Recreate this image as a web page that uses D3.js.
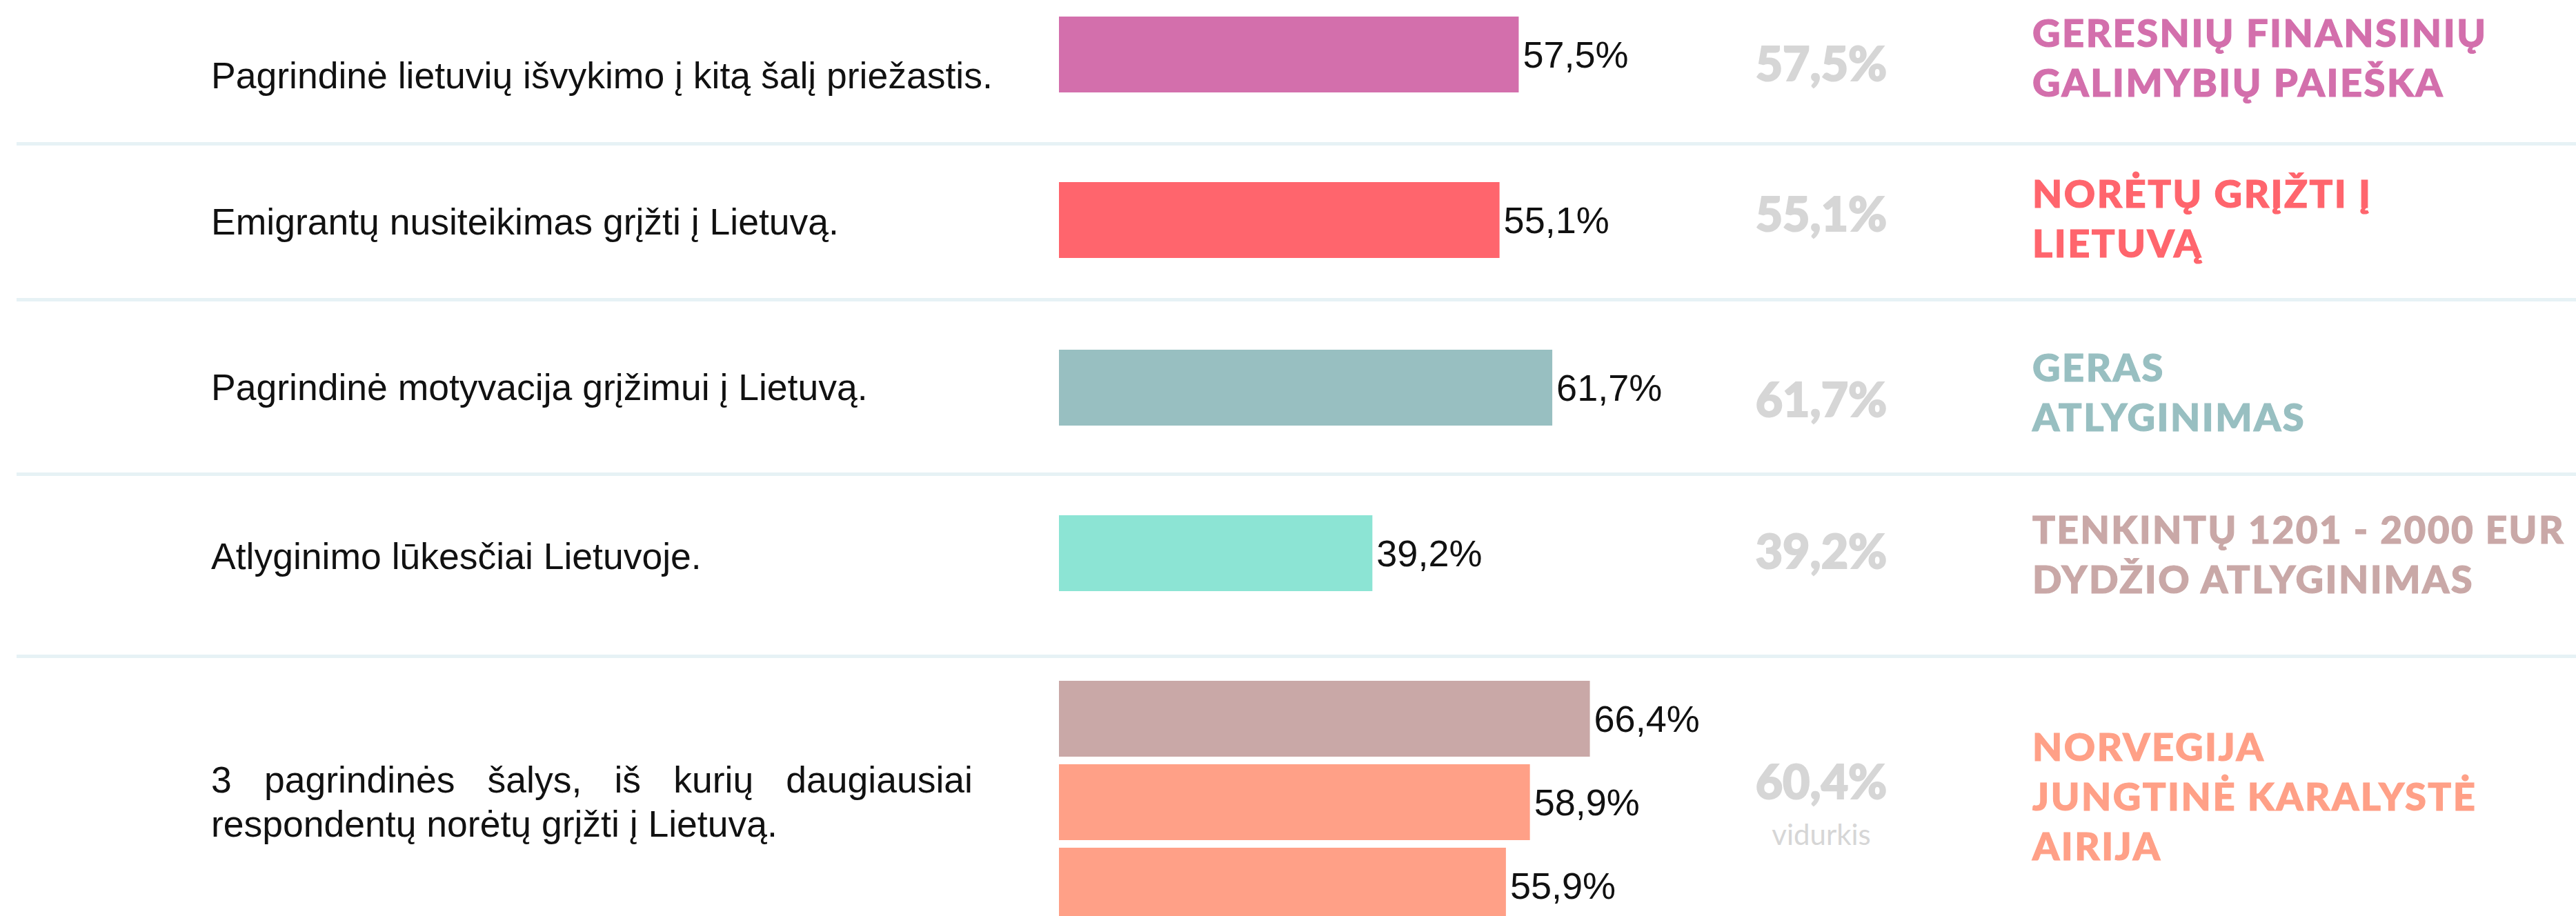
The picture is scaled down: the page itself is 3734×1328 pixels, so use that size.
<!DOCTYPE html>
<html lang="lt">
<head>
<meta charset="utf-8">
<script src="https://cdn.jsdelivr.net/npm/d3@7"></script>
<style>
  html, body { margin: 0; padding: 0; background: #fff; }
  svg { display: block; }
</style>
</head>
<body>
<svg id="chart" width="3734" height="1328"></svg>
<script>
// Survey rows: question text, bar values (%), headline answer lines
const questions = [
  ["Pagrindinė lietuvių išvykimo į kitą šalį priežastis."],
  ["Emigrantų nusiteikimas grįžti į Lietuvą."],
  ["Pagrindinė motyvacija grįžimui į Lietuvą."],
  ["Atlyginimo lūkesčiai Lietuvoje."],
  ["3 pagrindinės šalys, iš kurių daugiausiai", "respondentų norėtų grįžti į Lietuvą."]
];
const values = [
  [57.5],
  [55.1],
  [61.7],
  [39.2],
  [66.4, 58.9, 55.9]
];
const answers = [
  ["GERESNIŲ FINANSINIŲ", "GALIMYBIŲ PAIEŠKA"],
  ["NORĖTŲ GRĮŽTI Į", "LIETUVĄ"],
  ["GERAS", "ATLYGINIMAS"],
  ["TENKINTŲ 1201 - 2000 EUR", "DYDŽIO ATLYGINIMAS"],
  ["NORVEGIJA", "JUNGTINĖ KARALYSTĖ", "AIRIJA"]
];
const averageNote = [null, null, null, null, "vidurkis"];

// Colours
const barColors = [
  ["#d36fac"],
  ["#ff656d"],
  ["#98bfc1"],
  ["#8ce4d4"],
  ["#c9a8a7", "#ffa087", "#ffa087"]
];
const answerColors = ["#d36fac", "#ff656d", "#98bfc1", "#c9a8a7", "#ffa087"];

// Layout: vertical centre of each row's bar group and its text columns
const layout = {
  rowCenter:  [79, 319, 562, 802, 1163],
  questionY:  [109, 321, 561, 806, 1162],
  bigY:       [93, 311, 580, 800, 1134],
  answerY:    [84, 317, 569, 804, 1155],
  dividers:   [208.5, 434.5, 687.5, 951.5],
  barH: 110, barGap: 11,
  qx0: 306, qx1: 1410,
  bigX: 2640, answerX: 2946, answerMaxW: 772
};

const fmt = d3.formatLocale({decimal: ",", thousands: " ", grouping: [3], currency: ["", "€"]}).format(".1f");
const pct = v => fmt(v) + "%";
const sans = "'Liberation Sans', Arial, Helvetica, sans-serif";
const display = "Lato, 'Noto Sans', sans-serif";

const svg = d3.select("#chart");
const x = d3.scaleLinear().domain([0, 100]).range([1535, 2694]);

// Row dividers
svg.append("g").selectAll("rect").data(layout.dividers).join("rect")
  .attr("x", 24).attr("width", 3734 - 24)
  .attr("y", d => d - 2.5).attr("height", 5)
  .attr("fill", "#e6f2f5");

const rows = svg.append("g").selectAll("g.row")
  .data(values.map((v, i) => ({i, vals: v})))
  .join("g").attr("class", "row");

// Bars and their value labels
rows.each(function(r) {
  const g = d3.select(this);
  const n = r.vals.length;
  const step = layout.barH + layout.barGap;
  const y = d3.scaleBand()
    .domain(d3.range(n))
    .range([layout.rowCenter[r.i] - n * step / 2, layout.rowCenter[r.i] + n * step / 2])
    .paddingInner(layout.barGap / step)
    .paddingOuter(0.5 * layout.barGap / step);
  const bars = r.vals.map((v, j) => ({v, j}));
  g.selectAll("rect.bar").data(bars).join("rect").attr("class", "bar")
    .attr("x", x(0)).attr("width", d => x(d.v) - x(0))
    .attr("y", d => y(d.j)).attr("height", y.bandwidth())
    .attr("fill", d => barColors[r.i][d.j]);
  g.selectAll("text.val").data(bars).join("text").attr("class", "val")
    .attr("x", d => x(d.v) + 6)
    .attr("y", d => y(d.j) + y.bandwidth() / 2)
    .attr("dy", "0.35em")
    .attr("font-family", sans)
    .attr("font-size", 54)
    .attr("fill", "#111")
    .text(d => pct(d.v));
});

// Question text (left column)
rows.each(function(r) {
  const g = d3.select(this);
  const lines = questions[r.i];
  const lh = 64;
  const top = layout.questionY[r.i] - (lines.length - 1) * lh / 2;
  lines.forEach((line, k) => {
    const yy = top + k * lh;
    const justify = lines.length > 1 && k < lines.length - 1;
    if (!justify) {
      g.append("text")
        .attr("x", layout.qx0).attr("y", yy).attr("dy", "0.35em")
        .attr("font-family", sans)
        .attr("font-size", 53.5).attr("fill", "#111")
        .text(line);
    } else {
      // justified line: spread words across the column width
      const words = line.split(" ");
      const t = g.append("g");
      const nodes = words.map(w => t.append("text")
        .attr("y", yy).attr("dy", "0.35em")
        .attr("font-family", sans)
        .attr("font-size", 53.5).attr("fill", "#111").text(w));
      const widths = nodes.map(nd => nd.node().getComputedTextLength());
      const gap = (layout.qx1 - layout.qx0 - d3.sum(widths)) / (words.length - 1);
      let cx = layout.qx0;
      nodes.forEach((nd, m) => { nd.attr("x", cx); cx += widths[m] + gap; });
    }
  });
});

// Headline figure (grey) with optional note
rows.each(function(r) {
  const g = d3.select(this);
  const headline = r.vals.length > 1 ? d3.mean(r.vals) : r.vals[0];
  g.append("text")
    .attr("x", layout.bigX).attr("y", layout.bigY[r.i]).attr("dy", "0.36em")
    .attr("text-anchor", "middle")
    .attr("font-family", display)
    .attr("font-weight", 900).attr("font-size", 68)
    .attr("fill", "#d6d6d6")
    .attr("stroke", "#d6d6d6").attr("stroke-width", 2)
    .text(pct(headline));
  if (averageNote[r.i]) {
    g.append("text")
      .attr("x", layout.bigX).attr("y", layout.bigY[r.i] + 91)
      .attr("text-anchor", "middle")
      .attr("font-family", display)
      .attr("font-weight", 400).attr("font-size", 42)
      .attr("fill", "#d6d6d6")
      .text(averageNote[r.i]);
  }
});

// Answer lines (right column)
rows.each(function(r) {
  const g = d3.select(this);
  const lines = answers[r.i];
  const lh = 72;
  const top = layout.answerY[r.i] - (lines.length - 1) * lh / 2;
  g.selectAll("text.ans").data(lines).join("text").attr("class", "ans")
    .attr("x", layout.answerX)
    .attr("y", (d, k) => top + k * lh)
    .attr("dy", "0.36em")
    .attr("font-family", display)
    .attr("font-weight", 900).attr("font-size", 56)
    .attr("letter-spacing", 2.5)
    .attr("fill", answerColors[r.i])
    .attr("stroke", answerColors[r.i]).attr("stroke-width", 1.2)
    .text(d => d)
    .each(function() {
      // keep long lines inside the column
      const w = this.getComputedTextLength();
      if (w > layout.answerMaxW) {
        d3.select(this).attr("textLength", layout.answerMaxW).attr("lengthAdjust", "spacingAndGlyphs");
      }
    });
});
</script>
</body>
</html>
